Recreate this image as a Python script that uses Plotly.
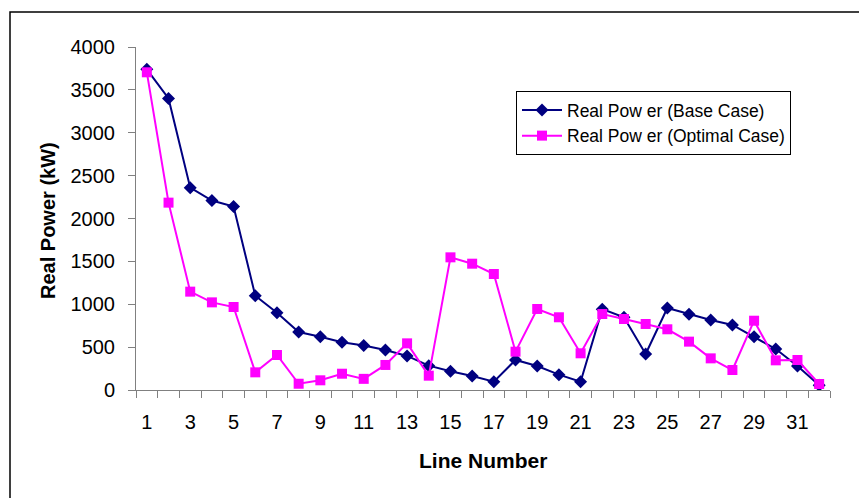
import plotly.graph_objects as go

line_numbers = list(range(1, 33))
base_case = [3740, 3400, 2360, 2210, 2140, 1100, 900, 676, 622, 556, 519, 466,
             397, 284, 218, 163, 97, 350, 280, 179, 97, 943, 848, 420, 956, 883,
             816, 758, 622, 478, 280, 55]
optimal_case = [3705, 2185, 1147, 1022, 968, 206, 408, 73, 113, 190, 130, 292,
                544, 167, 1547, 1473, 1353, 447, 945, 848, 428, 886, 828, 770,
                708, 564, 369, 233, 808, 346, 350, 70]
x_tick_vals = list(range(1, 33, 2))
x_tick_text = [str(v) for v in x_tick_vals]
y_tick_vals = list(range(0, 4001, 500))

W, H = 859, 498
L, R, T, B = 136, 29, 47, 108
pw, ph = W - L - R, H - T - B

def px(xp):
    return (xp - L) / pw

def py(yp):
    return (H - B - yp) / ph

FONT = "Arial, Liberation Sans, sans-serif"

fig = go.Figure()
fig.add_trace(go.Scatter(
    x=line_numbers, y=base_case, mode="lines+markers",
    name="Real Pow er (Base Case)",
    line=dict(color="#000080", width=2),
    marker=dict(symbol="diamond", size=10, color="#000080"),
))
fig.add_trace(go.Scatter(
    x=line_numbers, y=optimal_case, mode="lines+markers",
    name="Real Pow er (Optimal Case)",
    line=dict(color="#FF00FF", width=2),
    marker=dict(symbol="square", size=10, color="#FF00FF"),
))

fig.update_layout(
    width=W, height=H,
    margin=dict(l=L, r=R, t=T, b=B),
    paper_bgcolor="white", plot_bgcolor="white",
    font=dict(family=FONT, color="black"),
    showlegend=True,
    legend=dict(
        x=px(516), y=py(91), xanchor="left", yanchor="top",
        bordercolor="black", borderwidth=1, bgcolor="white",
        font=dict(size=17.5, family=FONT),
        tracegroupgap=0, itemwidth=40,
    ),
    xaxis=dict(
        range=[0.5, 32.5], tickmode="array", tickvals=x_tick_vals, ticktext=x_tick_text,
        ticks="", showgrid=False, zeroline=False,
        showline=True, linecolor="#808080", linewidth=1,
        tickfont=dict(size=20, family=FONT), ticklabelstandoff=14,
        minor=dict(ticks="outside", tick0=0.5, dtick=1, ticklen=7,
                   tickcolor="#808080", tickwidth=1, showgrid=False),
    ),
    yaxis=dict(
        range=[0, 4000], tickmode="array", tickvals=y_tick_vals,
        ticks="outside", ticklen=7, tickcolor="#808080", tickwidth=1,
        showgrid=False, zeroline=False,
        showline=True, linecolor="#808080", linewidth=1,
        tickfont=dict(size=20, family=FONT), ticklabelstandoff=9,
    ),
    shapes=[dict(type="rect", xref="paper", yref="paper",
                 x0=px(10), x1=px(870), y0=py(520), y1=py(12),
                 line=dict(color="black", width=1.5), fillcolor="rgba(0,0,0,0)",
                 layer="below")],
    annotations=[
        dict(text="<b>Line Number</b>", xref="paper", yref="paper",
             x=px(483), y=py(460), xanchor="center", yanchor="middle",
             showarrow=False, font=dict(size=21, family=FONT)),
        dict(text="<b>Real Power (kW)</b>", xref="paper", yref="paper",
             x=px(48), y=py(221), xanchor="center", yanchor="middle",
             textangle=-90, showarrow=False, font=dict(size=20, family=FONT)),
    ],
)

fig.write_html("out.html")
